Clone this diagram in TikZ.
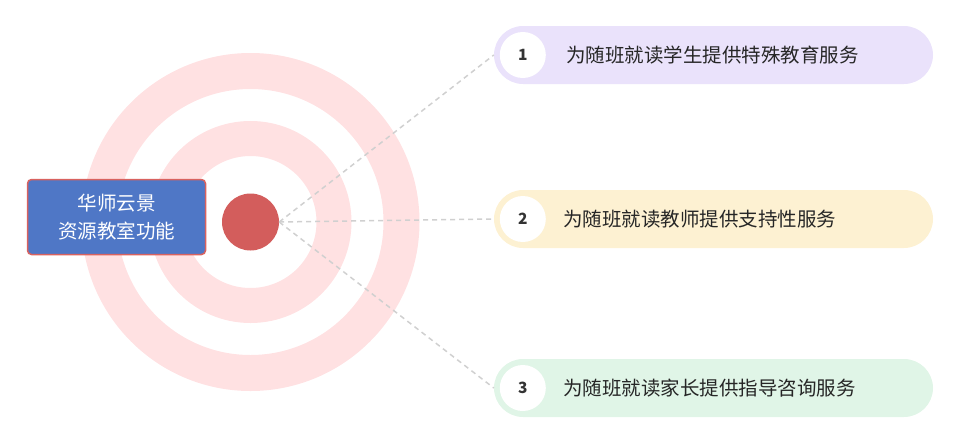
\documentclass[tikz,border=0pt]{standalone}
\usepackage{fontspec}
\setmainfont{Noto Sans CJK SC}
\usetikzlibrary{positioning}
\definecolor{ringpink}{HTML}{FFE1E2}
\definecolor{dotred}{HTML}{D35D5C}
\definecolor{boxblue}{HTML}{4F77C6}
\definecolor{boxedge}{HTML}{D9625F}
\definecolor{lav}{HTML}{EAE2FB}
\definecolor{cream}{HTML}{FDF1D2}
\definecolor{mint}{HTML}{E0F5E7}
\definecolor{dashgray}{HTML}{D0D0D0}
\definecolor{numgray}{HTML}{333333}
\begin{document}
\begin{tikzpicture}[x=1pt,y=-1pt,
	pill/.style={minimum width=439pt, minimum height=58pt, rounded corners=29pt, inner sep=0pt},
	numdot/.style={circle, fill=white, minimum size=46pt, inner sep=0pt, font=\fontsize{15.5}{17}\selectfont\bfseries, text=numgray},
	itemtext/.style={inner sep=0pt, font=\fontsize{19.5}{24}\selectfont, text=black!85},
	link/.style={draw=dashgray, line width=1.5pt, dash pattern=on 5pt off 4pt}]
	\useasboundingbox (0,0) rectangle (960,445);
	% rings
	\coordinate (c) at (250.5,222);
	\draw[ringpink, line width=35pt] (c) circle (83.5pt);
	\draw[ringpink, line width=36pt] (c) circle (151pt);
	\node[circle, fill=dotred, minimum size=57pt, inner sep=0pt] (hub) at (c) {};
	\node[draw=boxedge, fill=boxblue, line width=1.5pt, rounded corners=4pt, minimum width=178pt, minimum height=75pt, text=white, align=center, font=\fontsize{19.5}{28}\selectfont] (title) at (116.5,217) {华师云景\\资源教室功能};
	% items
	\node[pill, fill=lav] (item1) at (713.5,55) {};
	\node[pill, fill=cream] (item2) at (713.5,219) {};
	\node[pill, fill=mint] (item3) at (713.5,388) {};
	\node[numdot] (num1) at ([xshift=29pt]item1.west) {1};
	\node[numdot] (num2) at ([xshift=29pt]item2.west) {2};
	\node[numdot] (num3) at ([xshift=29pt]item3.west) {3};
	\node[itemtext, right=20pt of num1] (txt1) {为随班就读学生提供特殊教育服务};
	\node[itemtext, right=17pt of num2] (txt2) {为随班就读教师提供支持性服务};
	\node[itemtext, right=17pt of num3] (txt3) {为随班就读家长提供指导咨询服务};
	\draw[link] (hub.east) -- (item1.west);
	\draw[link] (hub.east) -- (item2.west);
	\draw[link] (hub.east) -- (item3.west);
\end{tikzpicture}
\end{document}
